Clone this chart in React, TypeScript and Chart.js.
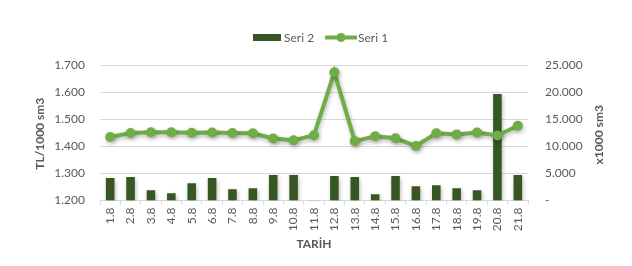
import React, { useEffect, useRef } from 'react';
import { Chart, registerables } from 'chart.js';

Chart.register(...registerables);

const categories = ['1.8', '2.8', '3.8', '4.8', '5.8', '6.8', '7.8', '8.8', '9.8', '10.8', '11.8', '12.8', '13.8', '14.8', '15.8', '16.8', '17.8', '18.8', '19.8', '20.8', '21.8'];
const seri2 = [4130, 4320, 1900, 1350, 3200, 4130, 2090, 2280, 4690, 4690, 60, 4500, 4320, 1170, 4500, 2650, 2830, 2280, 1900, 19630, 4690];
const seri1 = [1.434, 1.449, 1.452, 1.452, 1.45, 1.451, 1.449, 1.448, 1.429, 1.422, 1.441, 1.673, 1.419, 1.437, 1.43, 1.401, 1.448, 1.444, 1.451, 1.44, 1.476];
const leftMin = 1.2;
const leftMax = 1.7;
const leftStep = 0.1;
const rightMin = 0;
const rightMax = 25000;
const rightStep = 5000;
const leftTitle = 'TL/1000 sm3';
const rightTitle = 'x1000 sm3';
const xTitle = 'TARİH';
const seriesNames = ['Seri 2', 'Seri 1'];

const BAR_COLOR = '#375623';
const LINE_COLOR = '#70AD47';
const TEXT = '#595959';
const GRID = '#d9d9d9';
const FONT = 'Lato, "Open Sans", sans-serif';

const fmtThousands = (v: number) => {
  if (v === 0) return '-';
  return Math.round(v).toString().replace(/\B(?=(\d{3})+(?!\d))/g, '.');
};

const decorPlugin = {
  id: 'decor',
  beforeDatasetDraw(chart: any, args: any) {
    const ctx = chart.ctx;
    ctx.save();
    ctx.shadowColor = 'rgba(0,0,0,0.28)';
    ctx.shadowBlur = 4;
    ctx.shadowOffsetX = 1;
    ctx.shadowOffsetY = 2;
  },
  afterDatasetDraw(chart: any) {
    chart.ctx.restore();
  },
  afterDraw(chart: any) {
    const ctx = chart.ctx;
    const ca = chart.chartArea;
    ctx.save();
    ctx.fillStyle = TEXT;
    ctx.font = `bold 12px ${FONT}`;
    ctx.textAlign = 'center';
    ctx.textBaseline = 'middle';
    const midY = (ca.top + ca.bottom) / 2;
    // left title
    ctx.save();
    ctx.translate(40, midY + 1);
    ctx.rotate(-Math.PI / 2);
    ctx.fillText(leftTitle, 0, 0);
    ctx.restore();
    // right title (reads bottom to top)
    ctx.save();
    ctx.translate(599, midY + 2);
    ctx.rotate(-Math.PI / 2);
    ctx.fillText(rightTitle, 0, 0);
    ctx.restore();
    // x title
    ctx.fillText(xTitle, (ca.left + ca.right) / 2, 244);

    // legend
    ctx.font = `12px ${FONT}`;
    ctx.textAlign = 'left';
    ctx.fillStyle = BAR_COLOR;
    ctx.fillRect(253, 34, 28, 7);
    ctx.fillStyle = TEXT;
    ctx.fillText(seriesNames[0], 284, 38);
    ctx.strokeStyle = LINE_COLOR;
    ctx.lineWidth = 4;
    ctx.beginPath();
    ctx.moveTo(325, 37.5);
    ctx.lineTo(357, 37.5);
    ctx.stroke();
    ctx.fillStyle = LINE_COLOR;
    ctx.beginPath();
    ctx.arc(341, 37.5, 4.5, 0, Math.PI * 2);
    ctx.fill();
    ctx.fillStyle = TEXT;
    ctx.fillText(seriesNames[1], 358, 38);
    ctx.restore();
  },
};

export default function App() {
  const ref = useRef<HTMLCanvasElement | null>(null);
  useEffect(() => {
    document.body.style.margin = '0';
    const canvas = ref.current;
    if (!canvas) return;
    const chart = new Chart(canvas, {
      type: 'bar',
      data: {
        labels: categories,
        datasets: [
          {
            type: 'bar',
            label: seriesNames[0],
            data: seri2,
            backgroundColor: BAR_COLOR,
            yAxisID: 'y1',
            barPercentage: 0.42,
            categoryPercentage: 1,
            order: 2,
          },
          {
            type: 'line',
            label: seriesNames[1],
            data: seri1,
            borderColor: LINE_COLOR,
            backgroundColor: LINE_COLOR,
            borderWidth: 4,
            pointRadius: 5,
            pointBackgroundColor: LINE_COLOR,
            pointBorderColor: LINE_COLOR,
            pointBorderWidth: 0,
            tension: 0,
            yAxisID: 'y',
            order: 1,
          } as any,
        ],
      },
      options: {
        responsive: false,
        animation: false,
        devicePixelRatio: 1,
        layout: { padding: { top: 65, bottom: 0, left: 0, right: 0 } },
        plugins: { legend: { display: false }, tooltip: { enabled: false } },
        scales: {
          x: {
            offset: true,
            grid: { display: true, drawOnChartArea: false, color: GRID, tickLength: 4, offset: true },
            border: { display: true, color: GRID },
            ticks: {
              color: TEXT,
              font: { family: FONT, size: 12 },
              minRotation: 90,
              maxRotation: 90,
              padding: 3,
              autoSkip: false,
            },
            afterFit: (s: any) => { s.height = 65.5; },
          },
          y: {
            position: 'left',
            min: leftMin,
            max: leftMax,
            ticks: {
              stepSize: leftStep,
              color: TEXT,
              font: { family: FONT, size: 12 },
              padding: 15,
              callback: (v: any) => Number(v).toFixed(3),
            },
            grid: { color: GRID, drawTicks: false },
            border: { display: false },
            afterFit: (s: any) => { s.width = 100; },
          },
          y1: {
            position: 'right',
            min: rightMin,
            max: rightMax,
            ticks: {
              stepSize: rightStep,
              color: TEXT,
              font: { family: FONT, size: 12 },
              padding: 17,
              callback: (v: any) => fmtThousands(Number(v)),
            },
            grid: { display: false, drawTicks: false },
            border: { display: false },
            afterFit: (s: any) => { s.width = 104; },
          },
        },
      },
      plugins: [decorPlugin],
    });
    return () => chart.destroy();
  }, []);
  return (
    <div style={{ width: 632, height: 266 }}>
      <canvas ref={ref} width={632} height={266} style={{ display: 'block', width: 632, height: 266 }} />
    </div>
  );
}
